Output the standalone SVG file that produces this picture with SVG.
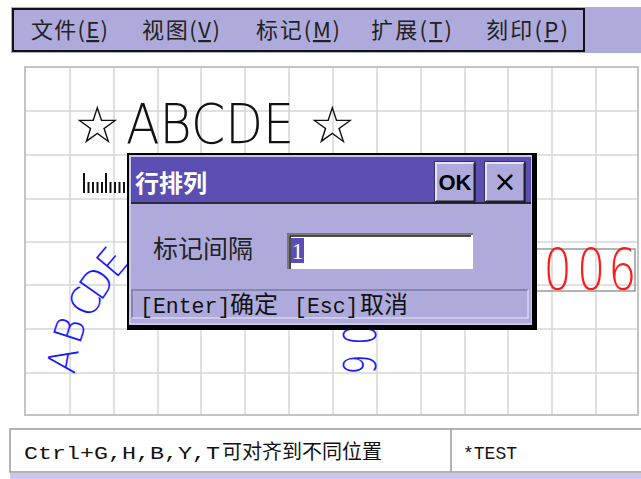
<svg xmlns="http://www.w3.org/2000/svg" width="641" height="479" viewBox="0 0 641 479">
<style>
.cjk{font-family:"Noto Sans CJK SC","Noto Sans CJK JP",sans-serif}
.mono{font-family:"Liberation Mono","Noto Sans CJK SC",monospace}
.thin{font-family:"DejaVu Sans","Noto Sans",sans-serif;font-weight:200}
.grid line{stroke:#d6d6d6;stroke-width:1.5}
.lav{fill:#aeabdc}
.ruler line{stroke:#111;stroke-width:2}
.blue{fill:#1a1aff;font-size:40px}
</style>
<rect width="641" height="479" fill="#fff"/>

<g id="canvas">
  <rect x="25" y="67" width="613" height="348" fill="#fff" stroke="#c4c4c4" stroke-width="2"/>
  <g class="grid">
    <line x1="70" y1="68" x2="70" y2="414"/><line x1="114" y1="68" x2="114" y2="414"/>
    <line x1="158" y1="68" x2="158" y2="414"/><line x1="201" y1="68" x2="201" y2="414"/>
    <line x1="245" y1="68" x2="245" y2="414"/><line x1="289" y1="68" x2="289" y2="414"/>
    <line x1="333" y1="68" x2="333" y2="414"/><line x1="377" y1="68" x2="377" y2="414"/>
    <line x1="421" y1="68" x2="421" y2="414"/><line x1="465" y1="68" x2="465" y2="414"/>
    <line x1="508" y1="68" x2="508" y2="414"/><line x1="552" y1="68" x2="552" y2="414"/>
    <line x1="596" y1="68" x2="596" y2="414"/>
    <line x1="26" y1="111" x2="637" y2="111"/><line x1="26" y1="155" x2="637" y2="155"/>
    <line x1="26" y1="199" x2="637" y2="199"/><line x1="26" y1="242" x2="637" y2="242"/>
    <line x1="26" y1="285" x2="637" y2="285"/><line x1="26" y1="329" x2="637" y2="329"/>
    <line x1="26" y1="373" x2="637" y2="373"/>
  </g>
</g>

<g id="title-text">
  <text class="thin" x="74" y="143" font-size="52" fill="#111">☆</text>
  <text class="thin" x="126" y="143" font-size="56" fill="#111" textLength="168" lengthAdjust="spacingAndGlyphs">ABCDE</text>
  <text class="thin" x="309" y="143" font-size="52" fill="#111">☆</text>
</g>

<g id="ruler" class="ruler">
  <line x1="84" y1="173" x2="84" y2="193"/>
  <line x1="88.5" y1="182" x2="88.5" y2="193"/><line x1="93" y1="182" x2="93" y2="193"/>
  <line x1="97.5" y1="182" x2="97.5" y2="193"/><line x1="102" y1="182" x2="102" y2="193"/>
  <line x1="106" y1="173" x2="106" y2="193"/>
  <line x1="110.5" y1="182" x2="110.5" y2="193"/><line x1="115" y1="182" x2="115" y2="193"/>
  <line x1="119.5" y1="182" x2="119.5" y2="193"/><line x1="124" y1="182" x2="124" y2="193"/>
</g>

<g id="arc-text" class="thin blue" text-anchor="middle">
  <text transform="translate(63,360) rotate(-80) scale(0.92,1)" y="14">A</text>
  <text transform="translate(70,330) rotate(-72) scale(0.92,1)" y="14">B</text>
  <text transform="translate(85,302) rotate(-62) scale(0.92,1)" y="14">C</text>
  <text transform="translate(97,283) rotate(-55) scale(0.92,1)" y="14">D</text>
  <text transform="translate(112,262) rotate(-50) scale(0.92,1)" y="14">E</text>
</g>

<g id="vertical-text">
  <text class="thin" fill="#1a1aff" font-size="44" text-anchor="middle" transform="translate(343,0) rotate(90) scale(0.72,1)" x="465 506" y="0">06</text>
</g>

<g id="serial">
  <rect x="525" y="249" width="110" height="42" fill="none" stroke="#9a9a9a" stroke-width="1.5"/>
  <text class="thin" fill="#ff1a1a" font-size="57" text-anchor="middle" transform="translate(0,290) scale(0.78,1)" x="715 758 798" y="0">006</text>
</g>

<g id="dialog">
  <rect x="127" y="153" width="410" height="177" fill="#000"/>
  <rect x="129" y="155" width="403" height="170" fill="#c9c7ec"/>
  <rect x="131" y="157" width="400" height="45" fill="#5a4eb2"/>
  <rect x="131" y="202" width="400" height="2" fill="#2a2a3a"/>
  <rect x="131" y="204" width="400" height="119" class="lav"/>
  <text class="cjk" x="135" y="192" font-size="24" font-weight="bold" fill="#fff">行排列</text>
  <g id="ok-button">
    <rect x="435" y="162" width="40" height="40" class="lav" stroke="#1a1a1a" stroke-width="1"/>
    <path d="M436 201 V163 H474" fill="none" stroke="#e4e2f6" stroke-width="2"/>
    <path d="M436 201.5 H474.5 V163" fill="none" stroke="#222" stroke-width="2"/>
    <text x="455" y="190" font-family="Liberation Sans, sans-serif" font-size="22" font-weight="bold" text-anchor="middle" fill="#000">OK</text>
  </g>
  <g id="close-button">
    <rect x="485" y="162" width="40" height="40" class="lav" stroke="#1a1a1a" stroke-width="1"/>
    <path d="M486 201 V163 H524" fill="none" stroke="#e4e2f6" stroke-width="2"/>
    <path d="M486 201.5 H524.5 V163" fill="none" stroke="#222" stroke-width="2"/>
    <text x="505" y="191" font-family="DejaVu Sans, sans-serif" font-size="28" text-anchor="middle" fill="#000">×</text>
  </g>
  <text class="cjk" x="153" y="258" font-size="25" fill="#222">标记间隔</text>
  <g id="input">
    <rect x="287" y="233" width="186" height="36" fill="#fff"/>
    <path d="M288 269 V234 H473" fill="none" stroke="#777" stroke-width="2"/>
    <path d="M290 269 V236 H471" fill="none" stroke="#111" stroke-width="1.5"/>
    <rect x="291" y="238" width="13" height="25" fill="#5a4eb2"/>
    <text x="297.5" y="259" font-family="Liberation Serif, serif" font-size="24" text-anchor="middle" fill="#fff">1</text>
  </g>
  <g id="dialog-status">
    <path d="M132 318 V290 H528" fill="none" stroke="#7b79a0" stroke-width="1.5"/>
    <path d="M132 318 H528 V290" fill="none" stroke="#d8d6f0" stroke-width="1.5"/>
    <text class="mono" y="313" font-size="21.5" fill="#111"><tspan x="140">[Enter]</tspan><tspan x="230" class="cjk" font-size="24">确定</tspan><tspan x="294">[Esc]</tspan><tspan x="360" class="cjk" font-size="24">取消</tspan></text>
  </g>
</g>

<g id="menubar">
  <rect x="11" y="7" width="630" height="46" class="lav"/>
  <rect x="13" y="9" width="571" height="42" class="lav" stroke="#111" stroke-width="2"/>
  <g class="cjk" font-size="22" fill="#222">
    <text x="31" y="38" textLength="77" lengthAdjust="spacing">文件(<tspan text-decoration="underline">E</tspan>)</text>
    <text x="142" y="38" textLength="78" lengthAdjust="spacing">视图(<tspan text-decoration="underline">V</tspan>)</text>
    <text x="256" y="38" textLength="84" lengthAdjust="spacing">标记(<tspan text-decoration="underline">M</tspan>)</text>
    <text x="371" y="38" textLength="81" lengthAdjust="spacing">扩展(<tspan text-decoration="underline">T</tspan>)</text>
    <text x="486" y="38" textLength="82" lengthAdjust="spacing">刻印(<tspan text-decoration="underline">P</tspan>)</text>
  </g>
</g>

<g id="statusbar">
  <rect x="10" y="429" width="640" height="43" fill="#fff" stroke="#9a9a9a" stroke-width="1.5"/>
  <line x1="451" y1="429" x2="451" y2="472" stroke="#9a9a9a" stroke-width="1.5"/>
  <rect x="10" y="473" width="631" height="6" fill="#c9c7ec"/>
  <text class="mono" y="459" font-size="18" fill="#111"><tspan x="24" textLength="196" lengthAdjust="spacingAndGlyphs">Ctrl+G,H,B,Y,T</tspan><tspan class="cjk" font-size="20" x="222">可对齐到不同位置</tspan></text>
  <text class="mono" x="463" y="459" font-size="18" fill="#111">*TEST</text>
</g>
</svg>
